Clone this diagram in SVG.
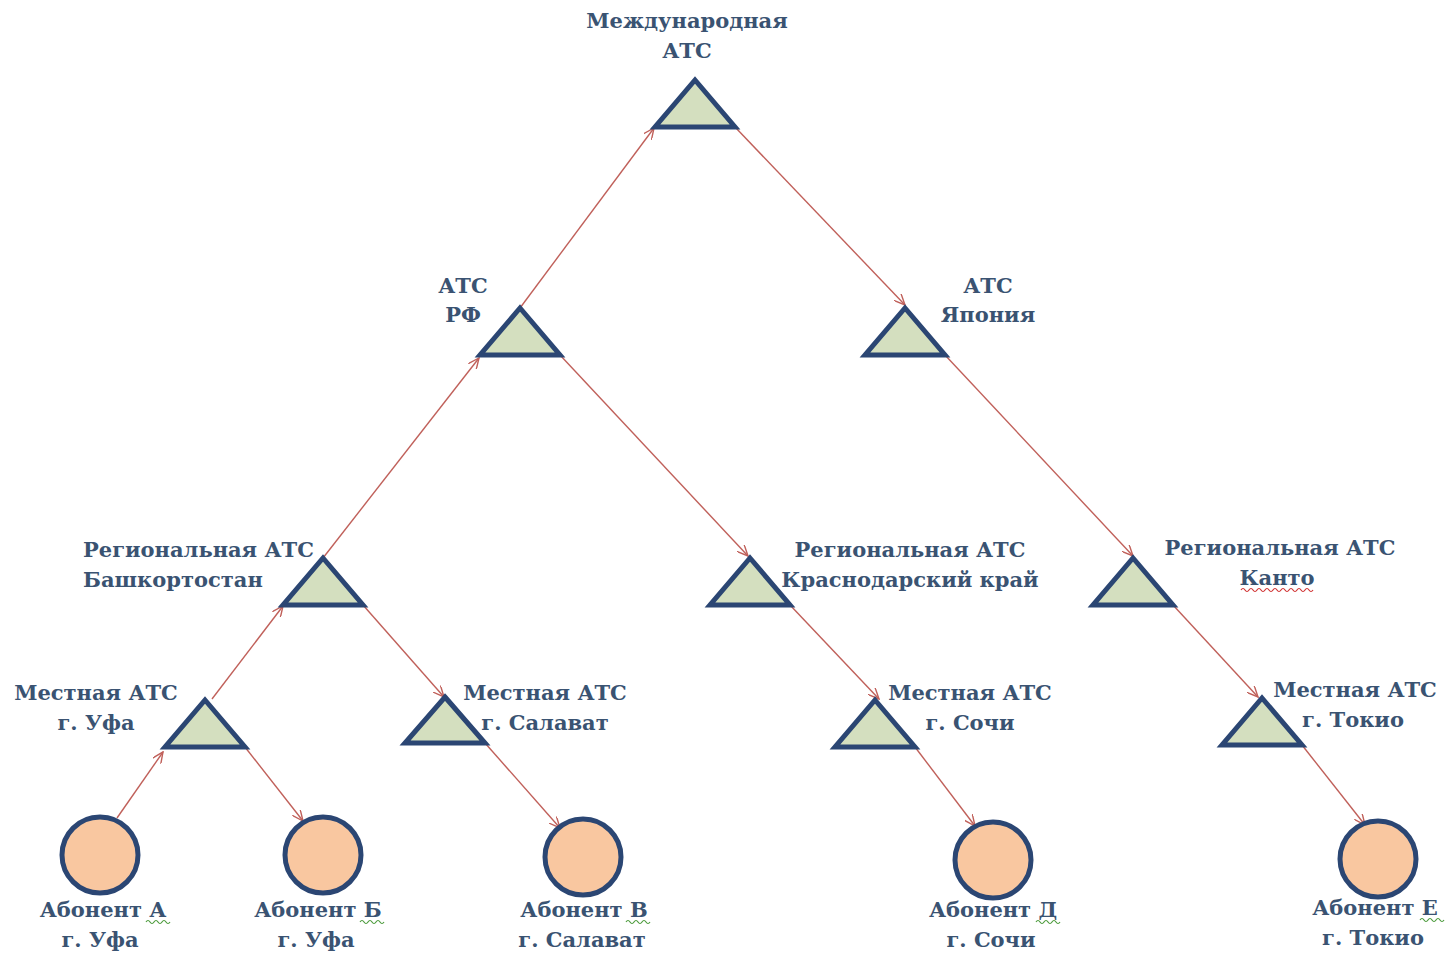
<svg xmlns="http://www.w3.org/2000/svg" width="1449" height="953" viewBox="0 0 1449 953">
<defs>
<style>
.t{font-family:"DejaVu Serif","Liberation Serif",serif;font-weight:bold;font-size:21px;fill:#3a5372;text-anchor:middle}
.l{text-anchor:start}
.tri{fill:#d4dfbf;stroke:#2b4673;stroke-width:5;stroke-linejoin:miter}
.cir{fill:#f9c7a0;stroke:#2b4673;stroke-width:5}
.c line{stroke:#c0605a;stroke-width:1.4;marker-end:url(#ah)}
.wg{fill:none;stroke:#4a9a3a;stroke-width:1.2}
.wr{fill:none;stroke:#d03030;stroke-width:1.2}
</style>
<marker id="ah" viewBox="0 0 12 10" refX="11" refY="5" markerWidth="12" markerHeight="10" markerUnits="userSpaceOnUse" orient="auto">
<path d="M0,0 L11,5 L0,10" fill="none" stroke="#c0605a" stroke-width="1.4"/>
</marker>
</defs>
<rect width="1449" height="953" fill="#ffffff"/>
<g class="c" id="connectors">
<line x1="117" y1="818" x2="163" y2="752"/>
<line x1="212" y1="699" x2="283" y2="606"/>
<line x1="323" y1="558" x2="479" y2="358"/>
<line x1="520" y1="308" x2="654" y2="128"/>
<line x1="735" y1="127" x2="905" y2="305"/>
<line x1="560" y1="355" x2="748" y2="556"/>
<line x1="363" y1="605" x2="444" y2="697"/>
<line x1="245" y1="747" x2="303" y2="821"/>
<line x1="485" y1="743" x2="560" y2="828"/>
<line x1="790" y1="605" x2="879" y2="699"/>
<line x1="915" y1="747" x2="975" y2="826"/>
<line x1="945" y1="355" x2="1133" y2="556"/>
<line x1="1173" y1="605" x2="1258" y2="697"/>
<line x1="1302" y1="745" x2="1365" y2="825"/>
</g>
<g id="n-intl"><polygon class="tri" points="695,80 735,127 655,127"/><text class="t" x="687" y="28">Международная</text><text class="t" x="687" y="58">АТС</text></g>
<g id="n-rf"><polygon class="tri" points="520,308 560,355 480,355"/><text class="t" x="463" y="293">АТС</text><text class="t" x="463" y="322">РФ</text></g>
<g id="n-jp"><polygon class="tri" points="905,308 945,355 865,355"/><text class="t" x="988" y="293">АТС</text><text class="t" x="988" y="322">Япония</text></g>
<g id="n-bash"><polygon class="tri" points="323,558 363,605 283,605"/><text class="t l" x="83" y="557">Региональная АТС</text><text class="t l" x="83" y="587">Башкортостан</text></g>
<g id="n-kras"><polygon class="tri" points="750,558 790,605 710,605"/><text class="t" x="910" y="557">Региональная АТС</text><text class="t" x="910" y="587">Краснодарский край</text></g>
<g id="n-kanto"><polygon class="tri" points="1133,558 1173,605 1093,605"/><text class="t" x="1280" y="555">Региональная АТС</text><text class="t" x="1277" y="585">Канто</text><path class="wr" d="M1241,590 q2,-3 4,0 t4,0 t4,0 t4,0 t4,0 t4,0 t4,0 t4,0 t4,0 t4,0 t4,0 t4,0 t4,0 t4,0 t4,0 t4,0 t4,0 t4,0"/></g>
<g id="n-ufa"><polygon class="tri" points="205,700 245,747 165,747"/><text class="t" x="96" y="700">Местная АТС</text><text class="t" x="96" y="730">г. Уфа</text></g>
<g id="n-salavat"><polygon class="tri" points="445,697 485,743 405,743"/><text class="t" x="545" y="700">Местная АТС</text><text class="t" x="545" y="730">г. Салават</text></g>
<g id="n-sochi"><polygon class="tri" points="875,700 915,747 835,747"/><text class="t" x="970" y="700">Местная АТС</text><text class="t" x="970" y="730">г. Сочи</text></g>
<g id="n-tokyo"><polygon class="tri" points="1262,698 1302,745 1222,745"/><text class="t" x="1355" y="697">Местная АТС</text><text class="t" x="1353" y="727">г. Токио</text></g>
<g id="s-a"><circle class="cir" cx="100" cy="855" r="38"/><text class="t" x="103" y="917">Абонент А</text><text class="t" x="100" y="947">г. Уфа</text><path class="wg" d="M146,922 q2,-3 4,0 t4,0 t4,0 t4,0 t4,0 t4,0"/></g>
<g id="s-b"><circle class="cir" cx="323" cy="855" r="38"/><text class="t" x="318" y="917">Абонент Б</text><text class="t" x="316" y="947">г. Уфа</text><path class="wg" d="M360,922 q2,-3 4,0 t4,0 t4,0 t4,0 t4,0 t4,0"/></g>
<g id="s-v"><circle class="cir" cx="583" cy="857" r="38"/><text class="t" x="584" y="917">Абонент В</text><text class="t" x="582" y="947">г. Салават</text><path class="wg" d="M626,922 q2,-3 4,0 t4,0 t4,0 t4,0 t4,0 t4,0"/></g>
<g id="s-d"><circle class="cir" cx="993" cy="860" r="38"/><text class="t" x="993" y="917">Абонент Д</text><text class="t" x="991" y="947">г. Сочи</text><path class="wg" d="M1036,922 q2,-3 4,0 t4,0 t4,0 t4,0 t4,0 t4,0"/></g>
<g id="s-e"><circle class="cir" cx="1378" cy="859" r="38"/><text class="t" x="1375" y="915">Абонент Е</text><text class="t" x="1373" y="945">г. Токио</text><path class="wg" d="M1420,920 q2,-3 4,0 t4,0 t4,0 t4,0 t4,0 t4,0"/></g>
</svg>
